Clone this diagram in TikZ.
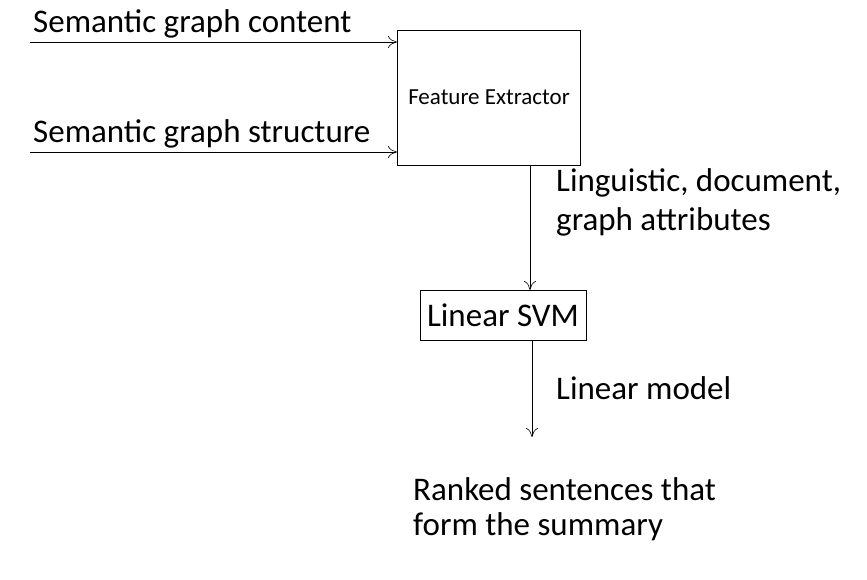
\documentclass[tikz,border=0pt]{standalone}
\usepackage{fontspec}
\setmainfont{Carlito}
\usetikzlibrary{arrows.meta}
\begin{document}
\begin{tikzpicture}[x=1pt,y=-1pt,
  box/.style={draw,thick,inner sep=0},
  lbl/.style={font=\fontsize{33}{38}\selectfont,anchor=west,inner sep=0},
  arr/.style={-{To[length=9pt,width=12pt]},semithick}]
\useasboundingbox (0,0) rectangle (867,580);
\node[box,minimum width=183,minimum height=135] (fe) at (488.5,97.5) {};
\node[lbl,font=\fontsize{23}{27}\selectfont,anchor=center] at (489,97) {Feature Extractor};
\node[box,minimum width=166,minimum height=50] (svm) at (503,315) {};
\node[lbl,anchor=center] at (503,315) {Linear SVM};
\coordinate (a1) at (30,42); \coordinate (b1) at (397,42);
\coordinate (a2) at (30,152); \coordinate (b2) at (397,152);
\draw[arr] (a1) -- (b1);
\draw[arr] (a2) -- (b2);
\node[lbl,anchor=south west] at (33,38) {Semantic graph content};
\node[lbl,anchor=south west] at (33,148) {Semantic graph structure};
\draw[arr] (530,165) -- (530,290);
\coordinate (out) at (532,437);
\draw[arr] (532,340) -- (out);
\node[lbl] at (556,183) {Linguistic, document,};
\node[lbl] at (556,222) {graph attributes};
\node[lbl] at (556,388) {Linear model};
\node[lbl] at (413,489) {Ranked sentences that};
\node[lbl] at (413,527) {form the summary};
\end{tikzpicture}
\end{document}
